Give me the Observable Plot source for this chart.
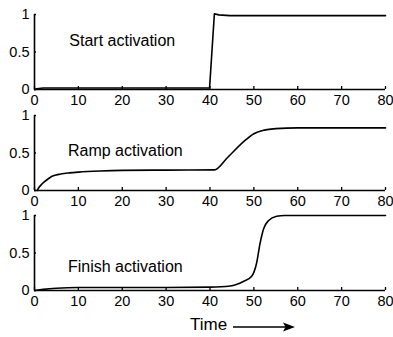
<!DOCTYPE html>
<html>
<head>
<meta charset="utf-8">
<script src="https://cdn.jsdelivr.net/npm/d3@7"></script>
<script src="https://cdn.jsdelivr.net/npm/@observablehq/plot@0.6"></script>
<style>
  html, body { margin: 0; padding: 0; background: #fff; }
  #wrap { position: relative; width: 393px; height: 337px; font-family: "Liberation Sans", Arial, sans-serif; }
  .panel { position: absolute; left: 0; }
  #time { position: absolute; left: 190px; top: 315px; font-size: 17px; color: #000; }
  #arrow { position: absolute; left: 232px; top: 320px; }
</style>
</head>
<body>
<div id="wrap"></div>
<script>
// ---- data ----
const xTicks = [0, 10, 20, 30, 40, 50, 60, 70, 80];
const yTicks = [0, 0.5, 1];
const yTickLabels = ["0", "0.5", "1"];

const startTitle = "Start activation";
const startT = [0, 0.5, 2, 5, 10, 20, 30, 39.9, 41, 42, 44.5, 50, 60, 70, 80];
const startV = [0, 0.01, 0.02, 0.02, 0.02, 0.02, 0.02, 0.02, 1.01, 0.995, 0.985, 0.985, 0.985, 0.985, 0.985];

const rampTitle = "Ramp activation";
const rampT = [0.6, 1, 1.75, 3, 4, 6, 8, 10, 15, 20, 30, 41, 44, 48, 50, 52, 53, 55, 60, 70, 80];
const rampV = [0, 0.04, 0.09, 0.15, 0.19, 0.22, 0.235, 0.245, 0.26, 0.268, 0.272, 0.275, 0.44, 0.667, 0.756, 0.80, 0.812, 0.825, 0.835, 0.835, 0.835];

const finishTitle = "Finish activation";
const finishT = [0, 2, 5, 10, 20, 30, 40, 44.6, 47.6, 49.5, 50.6, 51.4, 52.2, 53.3, 55.2, 57, 60, 70, 80];
const finishV = [0, 0.015, 0.03, 0.04, 0.04, 0.04, 0.045, 0.06, 0.12, 0.19, 0.36, 0.625, 0.82, 0.93, 0.99, 1.0, 1.0, 1.0, 1.0];

const xLabel = "Time";

// ---- drawing ----
const panels = [
  {title: startTitle, t: startT, v: startV, curve: "linear", lx: 20, ly: 0.65, top: 0},
  {title: rampTitle, t: rampT, v: rampV, curve: "monotone-x", lx: 20.7, ly: 0.53, top: 101},
  {title: finishTitle, t: finishT, v: finishV, curve: "monotone-x", lx: 20.7, ly: 0.31, top: 201}
];

const wrap = document.getElementById("wrap");
for (const p of panels) {
  const data = p.t.map((t, i) => ({t, v: p.v[i]}));
  const chart = Plot.plot({
    width: 393,
    height: 100,
    marginTop: 14,
    marginBottom: 11,
    marginLeft: 34,
    marginRight: 8,
    style: {fontFamily: "'Liberation Sans', Arial, sans-serif", fontSize: "14px", overflow: "visible", background: "transparent"},
    x: {domain: [0, 80]},
    y: {domain: [0, 1]},
    marks: [
      Plot.axisX({ticks: xTicks, tickSize: 0, tickPadding: 5, tickFormat: d => String(d), label: null, fontSize: 14.5}),
      Plot.axisX({ticks: xTicks, tickSize: -3, tickFormat: () => "", label: null, strokeWidth: 1.3}),
      Plot.axisY({ticks: yTicks, tickSize: 0, tickPadding: 5, tickFormat: d => yTickLabels[yTicks.indexOf(d)], label: null, fontSize: 14.5}),
      Plot.axisY({ticks: yTicks, tickSize: -2, tickFormat: () => "", label: null, strokeWidth: 1.3}),
      Plot.ruleY([0], {stroke: "#000", strokeWidth: 1.6}),
      Plot.ruleX([0], {stroke: "#000", strokeWidth: 1.6}),
      Plot.line(data, {x: "t", y: "v", stroke: "#000", strokeWidth: 1.6, curve: p.curve}),
      Plot.text([p.title], {x: p.lx, y: p.ly, text: d => d, fontSize: 16, fill: "#000"})
    ]
  });
  chart.classList.add("panel");
  chart.style.top = p.top + "px";
  wrap.appendChild(chart);
}

const time = document.createElement("div");
time.id = "time";
time.textContent = xLabel;
wrap.appendChild(time);

const arrow = d3.create("svg").attr("id", "arrow").attr("width", 66).attr("height", 14);
arrow.append("line").attr("x1", 1).attr("y1", 7).attr("x2", 54).attr("y2", 7).attr("stroke", "#000").attr("stroke-width", 1.5);
arrow.append("path").attr("d", "M63,7 L51,2.5 L53.5,7 L51,11.5 Z").attr("fill", "#000");
wrap.appendChild(arrow.node());
</script>
</body>
</html>
